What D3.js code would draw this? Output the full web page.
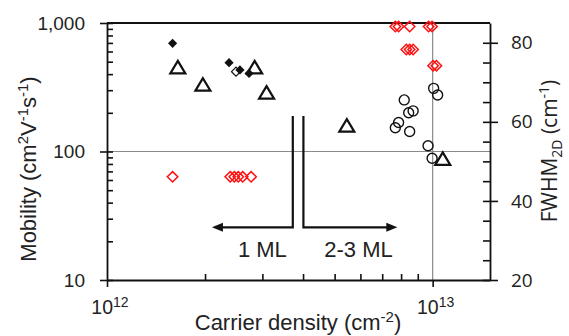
<!DOCTYPE html>
<html><head><meta charset="utf-8">
<script src="https://cdn.jsdelivr.net/npm/d3@7"></script>
<style>body{margin:0;background:#fff} svg{display:block}</style>
</head><body>
<svg id="c" width="569" height="336"></svg>
<script>
// ---------------- data ----------------
const filledDiamondX   = [1.59e12, 2.37e12, 2.56e12, 2.73e12];
const filledDiamondMob = [695, 491, 431, 405];
const hiddenDiamondX   = [2.49e12];
const hiddenDiamondMob = [418];
const triangleX   = [1.65e12, 1.97e12, 2.84e12, 3.09e12, 5.45e12, 1.074e13];
const triangleMob = [444, 325, 444, 282, 156, 86];
const circleX   = [1.007e13, 1.036e13, 8.18e12, 8.71e12, 8.44e12, 7.86e12, 7.68e12, 8.50e12, 9.68e12, 9.96e12];
const circleMob = [310, 275, 252, 207, 200, 168, 153, 143, 111, 88.5];
const redX    = [1.59e12, 2.39e12, 2.46e12, 2.53e12, 2.61e12, 2.77e12,
                 7.68e12, 7.86e12, 8.50e12, 9.72e12, 9.96e12,
                 8.30e12, 8.50e12, 8.71e12,
                 1.003e13, 1.027e13];
const redFwhm = [46.1, 46.1, 46.1, 46.1, 46.1, 46.1,
                 84.1, 84.1, 84.1, 84.1, 84.1,
                 78.3, 78.3, 78.3,
                 74.2, 74.2];
const xMajorTicks = [1e12, 1e13];
const xMajorExp   = ["12", "13"];
const xMinorTicks = [2e12, 3e12, 4e12, 5e12, 6e12, 7e12, 8e12, 9e12];
const yMobTicks   = [10, 100, 1000];
const yMobLabels  = ["10", "100", "1,000"];
const yMobMinor   = [20, 30, 40, 50, 60, 70, 80, 90, 200, 300, 400, 500, 600, 700, 800, 900];
const yFwTicks    = [20, 40, 60, 80];
const yFwMinor    = [25, 30, 35, 45, 50, 55, 65, 70, 75];
// annotation (data coordinates)
const splitLeftX = 3.72e12, splitRightX = 4.01e12;
const splitTopMob = 189, splitBottomMob = 25.7;
const arrowLeftTipX = 2.10e12, arrowRightTipX = 7.79e12;
const labels = [{t: "1 ML", x: 3.0e12}, {t: "2-3 ML", x: 5.92e12}];
const labelMob = 15.2;

// ---------------- scales ----------------
const L = 107, R = 490, T = 23, B = 280;
const x = d3.scaleLog().domain([1e12, 1.5e13]).range([L, R]);
const yMob = d3.scaleLog().domain([10, 1000]).range([B, T]);
const yFw = d3.scaleLinear().domain([20, 85]).range([B, T]);

const svg = d3.select("#c");
const AX = "#111";
const TXT = "#222";
const armFont = "'Liberation Sans', Arial, sans-serif";
const calFont = "'Open Sans', 'Noto Sans', sans-serif";

// gridlines
svg.append("line").attr("x1", L).attr("x2", R).attr("y1", yMob(100)).attr("y2", yMob(100))
  .attr("stroke", "#8a8a8a").attr("stroke-width", 1.2);
svg.append("line").attr("x1", x(1e13)).attr("x2", x(1e13)).attr("y1", T).attr("y2", B)
  .attr("stroke", "#8a8a8a").attr("stroke-width", 1.2);
// top border
svg.append("line").attr("x1", L).attr("x2", R).attr("y1", T).attr("y2", T)
  .attr("stroke", AX).attr("stroke-width", 1.8);

function styleAxis(g) {
  g.select(".domain").attr("stroke", AX).attr("stroke-width", 1.8);
  g.selectAll(".tick line").attr("stroke", AX).attr("stroke-width", 1.6);
}

// left axis
const gl = svg.append("g").attr("transform", `translate(${L},0)`)
  .call(d3.axisLeft(yMob).tickValues(yMobTicks).tickSizeInner(7).tickSizeOuter(0).tickPadding(15)
    .tickFormat((d, i) => yMobLabels[i]));
styleAxis(gl);
gl.selectAll(".tick text").attr("font-family", armFont).attr("font-size", 19).attr("fill", TXT);
svg.append("g").attr("transform", `translate(${L},0)`)
  .call(d3.axisRight(yMob).tickValues(yMobTicks.concat(yMobMinor)).tickSize(6).tickFormat(""))
  .call(g => g.select(".domain").remove()).call(styleAxis);

// bottom axis
const gb = svg.append("g").attr("transform", `translate(0,${B})`)
  .call(d3.axisBottom(x).tickValues(xMajorTicks).tickSizeInner(7).tickSizeOuter(0).tickFormat(""));
styleAxis(gb);
svg.append("g").attr("transform", `translate(0,${B})`)
  .call(d3.axisTop(x).tickValues(xMinorTicks).tickSize(6).tickFormat(""))
  .call(g => g.select(".domain").remove()).call(styleAxis);
xMajorTicks.forEach((v, i) => {
  const t = svg.append("text").attr("x", x(v) + 3).attr("y", 314).attr("text-anchor", "middle")
    .attr("font-family", armFont).attr("font-size", 19.5).attr("fill", TXT);
  t.append("tspan").text("10");
  t.append("tspan").attr("dy", -7).attr("font-size", 14).text(xMajorExp[i]);
});

// right axis
const gr = svg.append("g").attr("transform", `translate(${R},0)`)
  .call(d3.axisRight(yFw).tickValues(yFwTicks).tickSizeInner(8).tickSizeOuter(0).tickPadding(13));
styleAxis(gr);
gr.selectAll(".tick text").attr("font-family", calFont).attr("font-size", 19).attr("fill", TXT);
svg.append("g").attr("transform", `translate(${R},0)`)
  .call(d3.axisLeft(yFw).tickValues(yFwTicks.concat(yFwMinor)).tickSize(7).tickFormat(""))
  .call(g => g.select(".domain").remove()).call(styleAxis);

// axis titles
const yt = svg.append("text").attr("transform", `translate(36,${169}) rotate(-90)`)
  .attr("text-anchor", "middle").attr("font-family", armFont).attr("font-size", 22).attr("fill", TXT);
yt.append("tspan").text("Mobility (cm");
yt.append("tspan").attr("dy", -8).attr("font-size", 15).text("2");
yt.append("tspan").attr("dy", 8).text("V");
yt.append("tspan").attr("dy", -8).attr("font-size", 15).text("-1");
yt.append("tspan").attr("dy", 8).text("s");
yt.append("tspan").attr("dy", -8).attr("font-size", 15).text("-1");
yt.append("tspan").attr("dy", 8).text(")");

const xt = svg.append("text").attr("x", 298).attr("y", 330).attr("text-anchor", "middle")
  .attr("font-family", armFont).attr("font-size", 22).attr("fill", TXT);
xt.append("tspan").text("Carrier density (cm");
xt.append("tspan").attr("dy", -8).attr("font-size", 15).text("-2");
xt.append("tspan").attr("dy", 8).text(")");

const rt = svg.append("text").attr("transform", `translate(557,${151}) rotate(-90)`)
  .attr("text-anchor", "middle").attr("font-family", calFont).attr("font-size", 21).attr("fill", TXT);
rt.append("tspan").text("FWHM");
rt.append("tspan").attr("dy", 5).attr("font-size", 14).text("2D");
rt.append("tspan").attr("dy", -5).text(" (cm");
rt.append("tspan").attr("dy", -8).attr("font-size", 14).text("-1");
rt.append("tspan").attr("dy", 8).text(")");

// annotation: split lines and arrows
const ann = svg.append("g").attr("stroke", AX).attr("stroke-width", 2.2).attr("fill", "none");
const yTop = yMob(splitTopMob), yBot = yMob(splitBottomMob);
ann.append("path").attr("d", `M${x(splitLeftX)},${yTop}V${yBot}H${x(arrowLeftTipX) + 9}`);
ann.append("path").attr("d", `M${x(splitRightX)},${yTop}V${yBot}H${x(arrowRightTipX) - 9}`);
svg.append("path").attr("fill", AX)
  .attr("d", `M${x(arrowLeftTipX)},${yBot}l11,-4.5v9z`);
svg.append("path").attr("fill", AX)
  .attr("d", `M${x(arrowRightTipX)},${yBot}l-11,-4.5v9z`);
labels.forEach(l => {
  svg.append("text").attr("x", x(l.x)).attr("y", yMob(labelMob)).attr("text-anchor", "middle")
    .attr("font-family", armFont).attr("font-size", 22).attr("fill", TXT).text(l.t);
});

// markers
const diamond = r => `M0,${-r}L${r},0L0,${r}L${-r},0Z`;
const tri = `M0,-7.5L7.5,5L-7.5,5Z`;

svg.append("g").selectAll("path").data(redX).join("path")
  .attr("transform", (d, i) => `translate(${x(d)},${yFw(redFwhm[i])})`)
  .attr("d", diamond(5.2)).attr("fill", "none").attr("stroke", "#ff1010").attr("stroke-width", 1.5);

svg.append("g").selectAll("circle").data(circleX).join("circle")
  .attr("cx", d => x(d)).attr("cy", (d, i) => yMob(circleMob[i])).attr("r", 5)
  .attr("fill", "none").attr("stroke", AX).attr("stroke-width", 1.4);

svg.append("g").selectAll("path").data(hiddenDiamondX).join("path")
  .attr("transform", (d, i) => `translate(${x(d)},${yMob(hiddenDiamondMob[i])})`)
  .attr("d", diamond(4.5)).attr("fill", "none").attr("stroke", AX).attr("stroke-width", 1.2);

svg.append("g").selectAll("path").data(triangleX).join("path")
  .attr("transform", (d, i) => `translate(${x(d)},${yMob(triangleMob[i])})`)
  .attr("d", tri).attr("fill", "none").attr("stroke", AX).attr("stroke-width", 2.2)
  .attr("stroke-linejoin", "miter");

svg.append("g").selectAll("path").data(filledDiamondX).join("path")
  .attr("transform", (d, i) => `translate(${x(d)},${yMob(filledDiamondMob[i])})`)
  .attr("d", diamond(4.6)).attr("fill", AX);
</script>
</body></html>
